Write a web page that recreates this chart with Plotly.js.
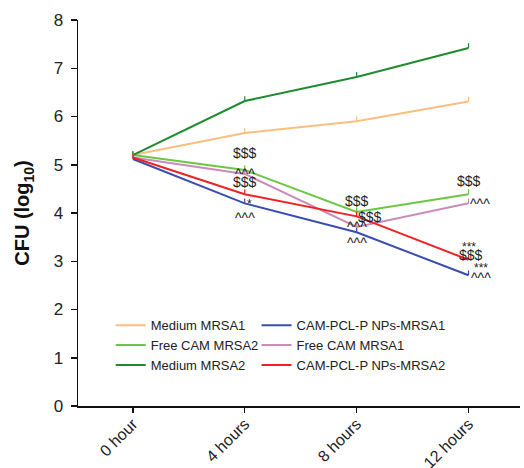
<!DOCTYPE html>
<html>
<head>
<meta charset="utf-8">
<script src="https://cdn.plot.ly/plotly-3.0.1.min.js"></script>
<style>html,body{margin:0;padding:0;background:#fff;}#chart{width:524px;height:468px;}</style>
</head>
<body>
<div id="chart"></div>
<script>
var categories = ["0 hour", "4 hours", "8 hours", "12 hours"];
var yTicks = [0, 1, 2, 3, 4, 5, 6, 7, 8];

var mediumMRSA1 = [5.2, 5.66, 5.9, 6.31];
var npsMRSA1 = [5.12, 4.2, 3.6, 2.71];
var freeCamMRSA2 = [5.2, 4.89, 4.02, 4.39];
var freeCamMRSA1 = [5.15, 4.81, 3.71, 4.2];
var mediumMRSA2 = [5.2, 6.32, 6.82, 7.42];
var npsMRSA2 = [5.15, 4.39, 3.93, 3.03];

var errUp = [0.08, 0.1, 0.1, 0.1];

var series = [
  {name: "Medium MRSA1", y: mediumMRSA1, color: "#F8BF7E", legend: "legend"},
  {name: "Free CAM MRSA2", y: freeCamMRSA2, color: "#6CC644", legend: "legend"},
  {name: "Medium MRSA2", y: mediumMRSA2, color: "#1E8C2E", legend: "legend"},
  {name: "CAM-PCL-P NPs-MRSA1", y: npsMRSA1, color: "#3A4DAE", legend: "legend2"},
  {name: "Free CAM MRSA1", y: freeCamMRSA1, color: "#C98CBA", legend: "legend2"},
  {name: "CAM-PCL-P NPs-MRSA2", y: npsMRSA2, color: "#EE2222", legend: "legend2"}
];

var traces = series.map(function (s) {
  return {
    type: "scatter", mode: "lines", name: s.name,
    x: categories, y: s.y,
    line: {color: s.color, width: 2},
    legend: s.legend,
    error_y: {type: "data", symmetric: false, array: errUp, arrayminus: [0, 0, 0, 0], color: s.color, thickness: 1.2, width: 0}
  };
});

var annFont = {family: "Liberation Sans, Arial, sans-serif", size: 14, color: "#222"};
var caretFont = {family: "Liberation Sans, Arial, sans-serif", size: 14, color: "#222"};
var starFont = {family: "Liberation Sans, Arial, sans-serif", size: 12, color: "#222"};
function ann(xi, y, text, font, dx) {
  return {x: categories[xi], y: y, xref: "x", yref: "y", text: text, showarrow: false,
    font: font, xshift: dx || 0};
}
var annotations = [
  ann(1, 5.24, "$$$", annFont),
  ann(1, 4.81, "^^^", caretFont),
  ann(1, 4.64, "$$$", annFont),
  ann(1, 4.19, "*", starFont, 5),
  ann(1, 3.89, "^^^", caretFont),
  ann(2, 4.25, "$$$", annFont),
  ann(2, 3.92, "$$$", annFont, 13),
  ann(2, 3.72, "^^^", caretFont),
  ann(2, 3.37, "^^^", caretFont),
  ann(3, 4.66, "$$$", annFont),
  ann(3, 4.18, "^^^", caretFont, 11),
  ann(3, 3.3, "***", starFont),
  ann(3, 3.13, "$$$", annFont, 2),
  ann(3, 2.86, "***", starFont, 12),
  ann(3, 2.66, "^^^", caretFont, 12)
];

var legendFont = {family: "Liberation Sans, Arial, sans-serif", size: 13, color: "#222"};

var layout = {
  width: 524, height: 468,
  margin: {l: 78, r: 4, t: 20, b: 62},
  paper_bgcolor: "#fff", plot_bgcolor: "#fff",
  showlegend: true,
  font: {family: "Liberation Sans, Arial, sans-serif", color: "#222"},
  xaxis: {
    type: "category", range: [-0.49, 3.46],
    showline: true, linecolor: "#111", linewidth: 1.5,
    ticks: "outside", ticklen: 5, tickwidth: 1.5, tickcolor: "#111",
    showgrid: false, zeroline: false, tickangle: -45,
    tickfont: {size: 16, color: "#222"}, ticklabelstandoff: -4
  },
  yaxis: {
    range: [0, 8], tickvals: yTicks,
    showline: true, linecolor: "#111", linewidth: 1.5,
    ticks: "outside", ticklen: 6, tickwidth: 1.5, tickcolor: "#111",
    showgrid: false, zeroline: false,
    tickfont: {size: 17, color: "#222"}, ticklabelstandoff: 4,
    title: {text: "CFU (log<sub>10</sub>)", font: {size: 20, color: "#111", weight: "bold"}, standoff: 18}
  },
  legend: {x: 0.074, y: 0.248, xanchor: "left", yanchor: "top", bgcolor: "rgba(0,0,0,0)",
    font: legendFont, itemwidth: 30, tracegroupgap: 0},
  legend2: {x: 0.404, y: 0.248, xanchor: "left", yanchor: "top", bgcolor: "rgba(0,0,0,0)",
    font: legendFont, itemwidth: 30, tracegroupgap: 0},
  annotations: annotations
};

Plotly.newPlot("chart", traces, layout, {displayModeBar: false, staticPlot: true});
</script>
</body>
</html>
